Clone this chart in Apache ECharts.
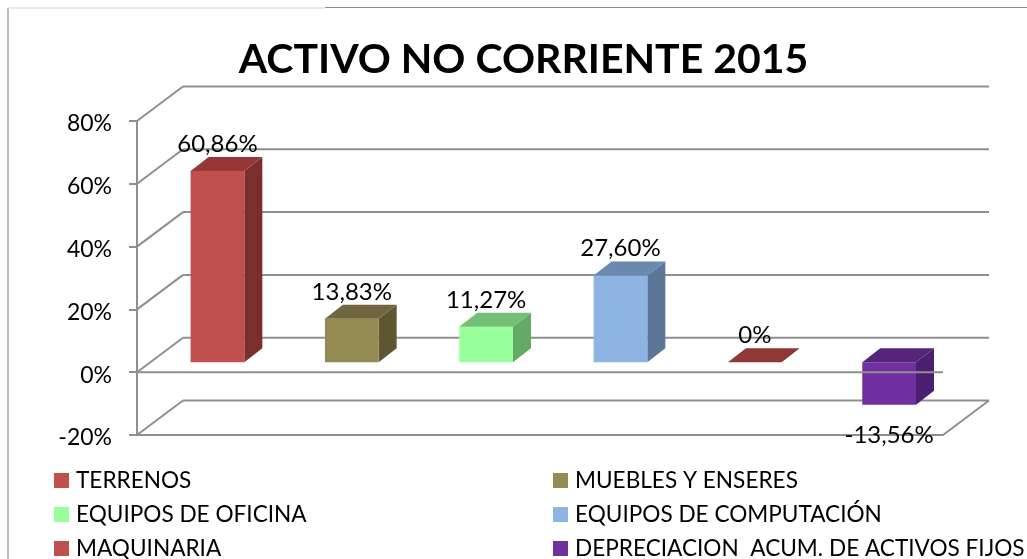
<!DOCTYPE html>
<html>
<head>
<meta charset="utf-8">
<style>html,body{margin:0;padding:0;background:#fff}#c{width:1027px;height:559px}</style>
<script src="https://cdn.jsdelivr.net/npm/echarts@6/dist/echarts.min.js"></script>
</head>
<body>
<div id="c"></div>
<script>
const categories = ['TERRENOS','MUEBLES Y ENSERES','EQUIPOS DE OFICINA','EQUIPOS DE COMPUTACIÓN','MAQUINARIA','DEPRECIACION  ACUM. DE ACTIVOS FIJOS'];
const values = [60.86, 13.83, 11.27, 27.60, 0, -13.56];
const valueLabels = ['60,86%','13,83%','11,27%','27,60%','0%','-13,56%'];
const frontColors = ['#C0504D','#948A54','#99FF99','#8DB4E2','#C0504D','#7030A0'];
const topColors = ['#953735','#716640','#73BF73','#6B88AE','#8F3836','#542478'];
const sideColors = ['#7A2F2D','#5E5630','#66A866','#5B7697','#7A2F2D','#4B2070'];
const yTicks = [-20, 0, 20, 40, 60, 80];

const FONT = 'Lato, "Open Sans", sans-serif';
const GRID = {left:137, right:84, top:121, bottom:124};
const WALL = {dx:46, dy:-34.5};      // depth of the chart box
const BAR = {dx:18, dy:-14, shiftX:13.3, shiftY:-10, ratio:0.4}; // depth of each bar
const LINE = {stroke:'#8F8F8F', lineWidth:2};

function seg(x1,y1,x2,y2){
  return {type:'line', shape:{x1,y1,x2,y2}, style:LINE, silent:true};
}
function frameItem(params, api){
  const t = api.value(0), y = api.coord([0,t])[1];
  const cs = params.coordSys, x0 = cs.x, x1 = cs.x + cs.width;
  const kids = [
    seg(x0,y,x0+WALL.dx,y+WALL.dy),
    seg(x0+WALL.dx,y+WALL.dy,x1+WALL.dx,y+WALL.dy)
  ];
  if (t === yTicks[0]) kids.push(seg(x1,y,x1+WALL.dx,y+WALL.dy));
  return {type:'group', children:kids};
}
function zeroItem(params, api){
  const y = api.coord([0,0])[1], cs = params.coordSys;
  return seg(cs.x,y,cs.x+cs.width,y);
}
function barItem(i){
  return function(params, api){
    const c0 = api.coord([i,0]), cv = api.coord([i,api.value(1)]);
    const w = api.size([1,0])[0]*BAR.ratio;
    const xl = c0[0]-w/2+BAR.shiftX, xr = xl+w;
    const yA = c0[1]+BAR.shiftY, yB = cv[1]+BAR.shiftY;
    const top = Math.min(yA,yB), bot = Math.max(yA,yB);
    const dx = BAR.dx, dy = BAR.dy;
    const v = api.value(1);
    const kids = [];
    if (bot-top > 0) {
      kids.push({type:'polygon', shape:{points:[[xr,top],[xr+dx,top+dy],[xr+dx,bot+dy],[xr,bot]]}, style:{fill:sideColors[i]}});
      kids.push({type:'rect', shape:{x:xl,y:top,width:w,height:bot-top}, style:{fill:frontColors[i]}});
    }
    kids.push({type:'polygon', shape:{points:[[xl,top],[xl+dx,top+dy],[xr+dx,top+dy],[xr,top]]}, style:{fill:topColors[i]}});
    kids.push({type:'text', z2:10, style:{
      text:valueLabels[i], x:(xl+xr)/2, y: v<0 ? bot+30 : top-27,
      align:'center', verticalAlign:'middle', font:'24px '+FONT, fill:'#000'
    }});
    return {type:'group', children:kids};
  };
}

const legendPos = [[54,469],[553,469],[54,503],[553,503],[54,537],[553,537]];
const option = {
  animation:false,
  backgroundColor:'#fff',
  title:{text:'ACTIVO NO CORRIENTE 2015', left:518.5, top:34, textAlign:'center',
    textStyle:{fontFamily:FONT, fontSize:41, fontWeight:'bold', color:'#000'}},
  legend: categories.map((n,i)=>({
    data:[n], left:legendPos[i][0], top:legendPos[i][1], icon:'rect',
    itemWidth:15, itemHeight:15, itemGap:8, selectedMode:false, padding:0,
    formatter:'{t|{name}}',
    textStyle:{fontFamily:FONT, fontSize:22.6, color:'#000',
      rich:{t:{fontFamily:FONT, fontSize:22.6, color:'#000', padding:[0,0,0,2]}}}
  })),
  grid:GRID,
  xAxis:{type:'category', data:categories, position:'bottom',
    axisLine:{onZero:false, show:true, lineStyle:{color:'#8F8F8F', width:2}},
    axisTick:{show:false}, axisLabel:{show:false}, splitLine:{show:false}},
  yAxis:{type:'value', min:-20, max:80, interval:20,
    axisLine:{show:true, lineStyle:{color:'#8F8F8F', width:2}},
    axisTick:{show:true, length:8, lineStyle:{color:'#8F8F8F', width:2}},
    splitLine:{show:false},
    axisLabel:{formatter:'{a|{value}%}', margin:25, color:'#000',
      rich:{a:{fontFamily:FONT, fontSize:23, color:'#000', padding:[6,0,0,0]}}}},
  graphic:[
    {type:'line', shape:{x1:8,y1:8,x2:8,y2:559}, style:{stroke:'#A6A6A6', lineWidth:1.5}, silent:true},
    {type:'line', shape:{x1:8,y1:8,x2:325,y2:8}, style:{stroke:'#D4D4D4', lineWidth:1}, silent:true},
    {type:'line', shape:{x1:325,y1:7.5,x2:1027,y2:7.5}, style:{stroke:'#8C8C8C', lineWidth:1}, silent:true}
  ],
  series:[
    {type:'custom', z:1, silent:true, renderItem:frameItem, data:yTicks.map(t=>[t]), encode:{x:-1,y:0}},
    ...categories.map((n,i)=>({
      type:'custom', name:n, z:2, silent:true,
      itemStyle:{color:frontColors[i]},
      renderItem:barItem(i), data:[[i,values[i]]], encode:{x:0,y:1}
    })),
    {type:'custom', z:3, silent:true, renderItem:zeroItem, data:[[0]], encode:{x:-1,y:0}}
  ]
};
echarts.init(document.getElementById('c'),null,{renderer:'canvas'}).setOption(option);
</script>
</body>
</html>
